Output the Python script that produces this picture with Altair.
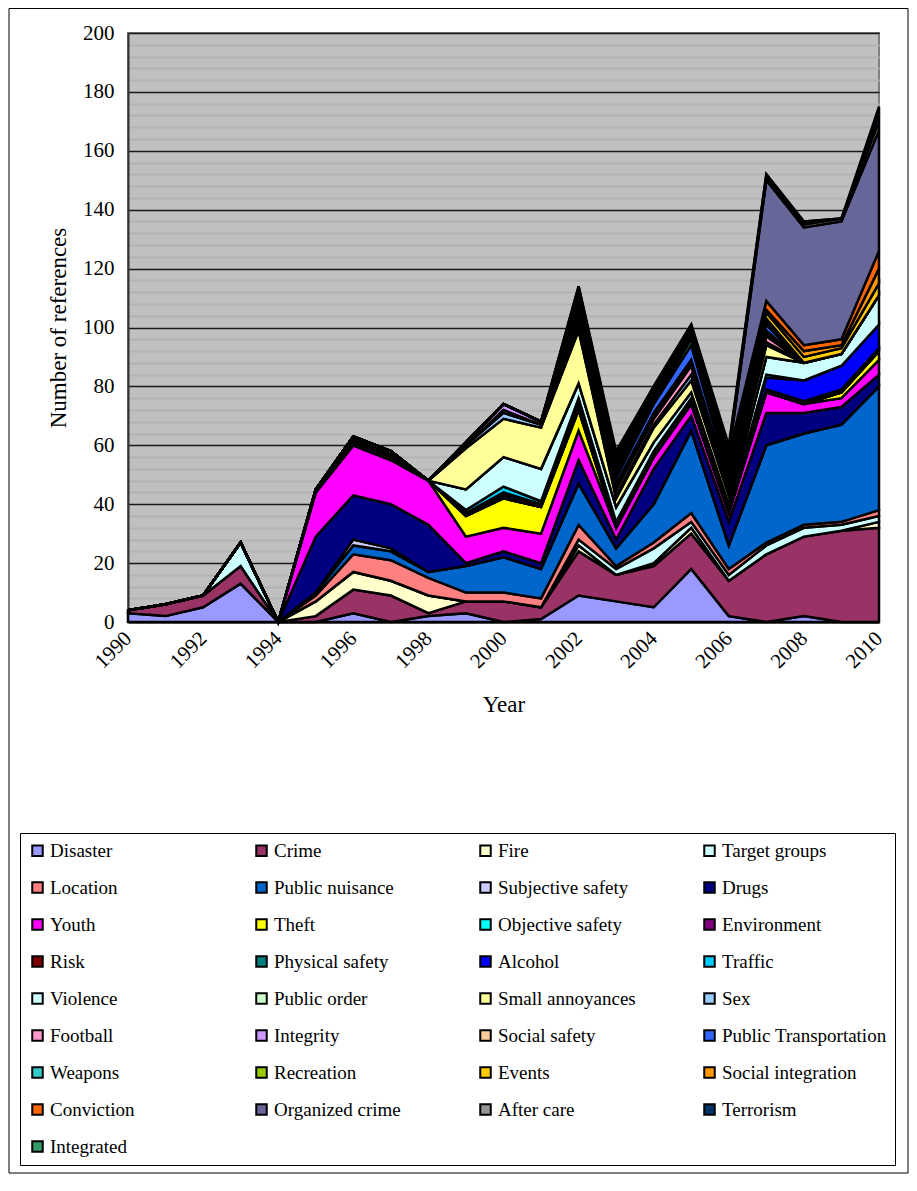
import altair as alt
import pandas as pd

years = list(range(1990, 2011))

# values per series, 1990..2010
disaster = [3, 2, 5, 13, 0, 0, 3, 0, 2, 3, 0, 1, 9, 7, 5, 18, 2, 0, 2, 0, 0]
crime = [1, 4, 4, 6, 0, 2, 8, 9, 1, 4, 7, 4, 15, 9, 14, 12, 12, 23, 27, 31, 32]
fire = [0, 0, 0, 0, 0, 5, 6, 5, 6, 0, 0, 0, 2, 0, 1, 2, 0, 0, 0, 0, 2]
target_groups = [0, 0, 0, 8, 0, 0, 0, 0, 0, 0, 0, 0, 2, 2, 5, 2, 2, 3, 3, 2, 2]
location = [0, 0, 0, 0, 0, 2, 6, 7, 6, 3, 3, 3, 5, 1, 2, 3, 2, 1, 1, 1, 2]
public_nuisance = [0, 0, 0, 0, 0, 1, 3, 3, 2, 9, 12, 10, 14, 6, 13, 28, 8, 33, 31, 33, 42]
subjective_safety = [0, 0, 0, 0, 0, 0, 2, 1, 0, 0, 0, 0, 0, 0, 0, 0, 0, 0, 0, 0, 0]
drugs = [0, 0, 0, 0, 0, 19, 15, 15, 16, 1, 2, 2, 8, 3, 12, 5, 8, 11, 7, 6, 4]
youth = [0, 0, 0, 0, 0, 15, 17, 15, 15, 9, 8, 10, 10, 4, 4, 4, 3, 7, 3, 3, 5]
theft = [0, 0, 0, 0, 0, 0, 0, 0, 0, 7, 10, 9, 7, 0, 0, 0, 0, 0, 0, 2, 3]
objective_safety = [0] * 21
environment = [0, 0, 0, 0, 0, 1, 1, 1, 0, 1, 1, 1, 1, 1, 1, 1, 1, 1, 1, 0, 0]
risk = [0, 0, 0, 0, 0, 0, 1, 1, 0, 0, 1, 0, 1, 0, 0, 0, 0, 0, 0, 0, 0]
physical_safety = [0, 0, 0, 0, 0, 0, 0, 0, 0, 0, 0, 0, 1, 0, 0, 0, 0, 0, 0, 1, 1]
alcohol = [0, 0, 0, 0, 0, 0, 0, 0, 0, 0, 0, 0, 0, 0, 0, 0, 0, 4, 7, 8, 8]
traffic = [0, 0, 0, 0, 0, 0, 0, 0, 0, 1, 2, 1, 1, 1, 1, 1, 1, 1, 0, 0, 0]
violence = [0, 0, 0, 0, 0, 0, 1, 1, 0, 7, 10, 11, 5, 5, 3, 2, 1, 6, 6, 4, 10]
public_order = [0] * 21
small_annoyances = [0, 0, 0, 0, 0, 0, 0, 0, 0, 14, 13, 14, 18, 3, 5, 4, 3, 4, 0, 0, 0]
sex = [0, 0, 0, 0, 0, 0, 0, 0, 0, 1, 2, 1, 2, 1, 1, 2, 1, 1, 0, 0, 0]
football = [0, 0, 0, 0, 0, 0, 0, 0, 0, 0, 1, 0, 2, 2, 2, 3, 1, 2, 0, 0, 0]
integrity = [0, 0, 0, 0, 0, 0, 0, 0, 0, 1, 2, 1, 1, 1, 1, 1, 1, 1, 0, 0, 0]
social_safety = [0, 0, 0, 0, 0, 0, 0, 0, 0, 0, 0, 0, 1, 1, 1, 1, 1, 1, 0, 0, 0]
public_transportation = [0, 0, 0, 0, 0, 0, 0, 0, 0, 0, 0, 0, 2, 2, 3, 5, 2, 2, 0, 0, 0]
weapons = [0, 0, 0, 0, 0, 0, 0, 0, 0, 0, 0, 0, 1, 1, 1, 2, 1, 1, 0, 0, 0]
recreation = [0, 0, 0, 0, 0, 0, 0, 0, 0, 0, 0, 0, 1, 1, 1, 1, 1, 1, 0, 0, 0]
events = [0, 0, 0, 0, 0, 0, 0, 0, 0, 0, 0, 0, 1, 1, 1, 1, 2, 2, 2, 2, 4]
social_integration = [0, 0, 0, 0, 0, 0, 0, 0, 0, 0, 0, 0, 1, 1, 1, 1, 2, 1, 2, 1, 5]
conviction = [0, 0, 0, 0, 0, 0, 0, 0, 0, 0, 0, 0, 1, 2, 1, 1, 2, 3, 2, 2, 6]
organized_crime = [0, 0, 0, 0, 0, 0, 0, 0, 0, 0, 0, 0, 0, 0, 0, 0, 0, 41, 40, 40, 41]
after_care = [0, 0, 0, 0, 0, 0, 0, 0, 0, 0, 0, 0, 1, 1, 0, 0, 1, 1, 1, 1, 3]
terrorism = [0, 0, 0, 0, 0, 0, 0, 0, 0, 0, 0, 0, 1, 1, 1, 1, 1, 1, 1, 0, 3]
integrated = [0, 0, 0, 0, 0, 0, 0, 0, 0, 0, 0, 0, 0, 1, 0, 0, 1, 0, 0, 0, 2]

names = ["Disaster", "Crime", "Fire", "Target groups", "Location", "Public nuisance",
         "Subjective safety", "Drugs", "Youth", "Theft", "Objective safety", "Environment",
         "Risk", "Physical safety", "Alcohol", "Traffic", "Violence", "Public order",
         "Small annoyances", "Sex", "Football", "Integrity", "Social safety",
         "Public Transportation", "Weapons", "Recreation", "Events", "Social integration",
         "Conviction", "Organized crime", "After care", "Terrorism", "Integrated"]

colors = ["#9999FF", "#993366", "#FFFFCC", "#CCFFFF", "#FF8080", "#0066CC",
          "#CCCCFF", "#000080", "#FF00FF", "#FFFF00", "#00FFFF", "#800080",
          "#800000", "#008080", "#0000FF", "#00CCFF", "#CCFFFF", "#CCFFCC",
          "#FFFF99", "#99CCFF", "#FF99CC", "#CC99FF", "#FFCC99",
          "#3366FF", "#33CCCC", "#99CC00", "#FFCC00", "#FF9900",
          "#FF6600", "#666699", "#969696", "#003366", "#339966"]

series_values = [disaster, crime, fire, target_groups, location, public_nuisance,
                 subjective_safety, drugs, youth, theft, objective_safety, environment,
                 risk, physical_safety, alcohol, traffic, violence, public_order,
                 small_annoyances, sex, football, integrity, social_safety,
                 public_transportation, weapons, recreation, events, social_integration,
                 conviction, organized_crime, after_care, terrorism, integrated]

rows = []
for i, (n, vals) in enumerate(zip(names, series_values)):
    for yr, v in zip(years, vals):
        rows.append({"Year": yr, "Series": n, "Value": v, "idx": i})
df = pd.DataFrame(rows)

W, H = 751, 589
FONT = "Liberation Serif"

grid_color = {"condition": {"test": "datum.value % 20 === 0", "value": "#1a1a1a"}, "value": "#B3B3B3"}
grid_width = {"condition": {"test": "datum.value % 20 === 0", "value": 1.5}, "value": 2}

frame = alt.Chart(pd.DataFrame({"k": [0]})).mark_rect(
    fillOpacity=0, stroke="#000000", strokeWidth=1
).encode(
    x=alt.value(-119), x2=alt.value(780), y=alt.value(-24.5), y2=alt.value(1140)
)

area = alt.Chart(df).mark_area(
    stroke="black", strokeWidth=2.5, strokeJoin="miter", strokeMiterLimit=4
).encode(
    x=alt.X("Year:Q",
            scale=alt.Scale(domain=[1990, 2010], nice=False, zero=False),
            axis=alt.Axis(values=list(range(1990, 2011, 2)), format="d",
                          labelAngle=-45, labelAlign="right", labelBaseline="middle",
                          labelPadding=13, labelFont=FONT, labelFontSize=21,
                          labelColor="black", grid=False, ticks=False,
                          domain=True, domainColor="black", domainWidth=2,
                          title="Year", titleFont=FONT, titleFontSize=23,
                          titleFontWeight="normal", titleColor="black",
                          titleX=375.5, titleY=82, titleBaseline="middle",
                          titleAlign="center")),
    y=alt.Y("Value:Q", stack="zero",
            scale=alt.Scale(domain=[0, 200], nice=False),
            axis=alt.Axis(values=list(range(0, 201, 4)),
                          labelExpr="datum.value % 20 === 0 ? datum.label : ''",
                          labelOverlap=False, labelPadding=14,
                          labelFont=FONT, labelFontSize=21, labelColor="black",
                          grid=True, gridColor=grid_color, gridWidth=grid_width,
                          ticks=False, domain=True, domainColor="#333333", domainWidth=2,
                          title="Number of references", titleFont=FONT, titleFontSize=23,
                          titleFontWeight="normal", titleColor="black",
                          titleAngle=-90, titleX=-70, titleY=294.5,
                          titleBaseline="middle", titleAlign="center")),
    color=alt.Color("Series:N",
                    scale=alt.Scale(domain=names, range=colors),
                    legend=alt.Legend(orient="none", legendX=-108, legendY=800,
                                      direction="horizontal",
                                      columns=4, gridAlign="all",
                                      columnPadding=37, rowPadding=17,
                                      symbolLimit=0,
                                      symbolType="square", symbolSize=110,
                                      symbolStrokeColor="black", symbolStrokeWidth=2,
                                      labelFont=FONT, labelFontSize=19, labelColor="black",
                                      labelOffset=3, labelLimit=0,
                                      padding=8, strokeColor="black", fillColor="white",
                                      title=None)),
    order=alt.Order("idx:Q", sort="ascending"),
)

chart = alt.layer(frame, area).properties(
    width=W, height=H,
    autosize=alt.AutoSizeParams(type="none"),
    padding={"left": 120, "top": 25, "right": 30, "bottom": 552},
    background="white",
).configure_view(
    fill="#C0C0C0", stroke="#808080", strokeWidth=2
)

chart.save("out.html", embed_options={"renderer": "svg", "actions": False})
